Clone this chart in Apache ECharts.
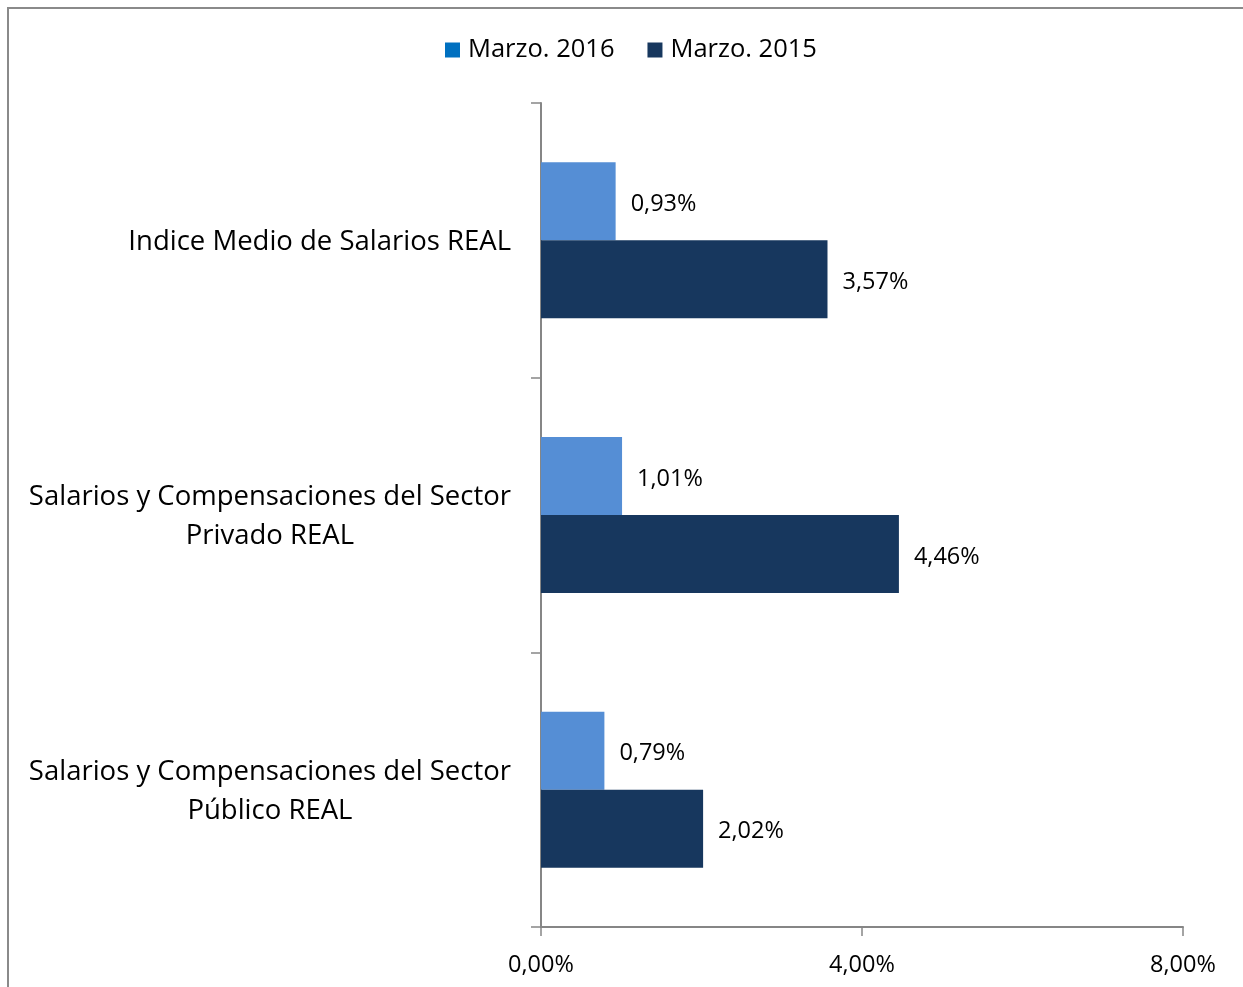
<!DOCTYPE html>
<html>
<head>
<meta charset="utf-8">
<script src="https://cdn.jsdelivr.net/npm/echarts@6/dist/echarts.min.js"></script>
<style>
html,body{margin:0;padding:0;background:#fff;}
#chart{width:1243px;height:987px;}
</style>
</head>
<body>
<div id="chart"></div>
<script>
const categories = [
  'Indice Medio de Salarios REAL',
  'Salarios y Compensaciones del Sector\nPrivado REAL',
  'Salarios y Compensaciones del Sector\nPúblico REAL'
];
const seriesNames = ['Marzo. 2016', 'Marzo. 2015'];
const values2016 = [0.93, 1.01, 0.79];
const values2015 = [3.57, 4.46, 2.02];
const xTicks = [0, 4, 8];

const FONT = 'Open Sans';
const fmtPct = v => v.toFixed(2).replace('.', ',') + '%';

const chart = echarts.init(document.getElementById('chart'), null, {renderer: 'canvas'});
chart.setOption({
  animation: false,
  backgroundColor: '#ffffff',
  textStyle: {fontFamily: FONT, color: '#000'},
  graphic: [{
    type: 'rect', silent: true,
    shape: {x: 8, y: 8, width: 1260, height: 1010},
    style: {fill: 'none', stroke: '#8a8a8a', lineWidth: 2}
  }],
  legend: {
    left: 440, top: 32,
    itemWidth: 15, itemHeight: 15, itemGap: 33,
    icon: 'rect',
    textStyle: {fontFamily: FONT, fontSize: 25.5, color: '#000', padding: [0, 0, 0, 3]},
    data: [
      {name: seriesNames[0], itemStyle: {color: '#0070C0'}},
      {name: seriesNames[1], itemStyle: {color: '#17375E'}}
    ]
  },
  grid: {left: 541, right: 60, top: 103, bottom: 60, containLabel: false},
  xAxis: {
    type: 'value', min: xTicks[0], max: xTicks[xTicks.length - 1], interval: 4,
    axisLine: {show: true, lineStyle: {color: '#868686', width: 2}},
    axisTick: {show: true, length: 9, lineStyle: {color: '#868686', width: 1.5}},
    splitLine: {show: false},
    axisLabel: {fontFamily: FONT, fontSize: 23.5, color: '#000', margin: 26, formatter: v => fmtPct(v)}
  },
  yAxis: {
    type: 'category', data: categories, inverse: true,
    axisLine: {show: true, lineStyle: {color: '#868686', width: 2}},
    axisTick: {show: true, length: 10, interval: 0, lineStyle: {color: '#868686', width: 1.5}},
    axisLabel: {
      margin: 30, interval: 0,
      formatter: v => v.split('\n').map(s => '{c|' + s + '}').join('\n'),
      rich: {c: {fontFamily: FONT, fontSize: 27.5, color: '#000', align: 'center', lineHeight: 39, padding: [4, 0, 0, 0]}}
    }
  },
  series: [
    {
      name: seriesNames[0], type: 'bar', data: values2016,
      barWidth: 78, barGap: '0%',
      itemStyle: {color: '#558ED5'},
      label: {show: true, position: 'right', distance: 15, offset: [0, 3], fontFamily: FONT, fontSize: 23.5, color: '#000',
        formatter: p => fmtPct(p.value)}
    },
    {
      name: seriesNames[1], type: 'bar', data: values2015,
      barWidth: 78, barGap: '0%',
      itemStyle: {color: '#17375E'},
      label: {show: true, position: 'right', distance: 15, offset: [0, 3], fontFamily: FONT, fontSize: 23.5, color: '#000',
        formatter: p => fmtPct(p.value)}
    }
  ]
});
</script>
</body>
</html>
